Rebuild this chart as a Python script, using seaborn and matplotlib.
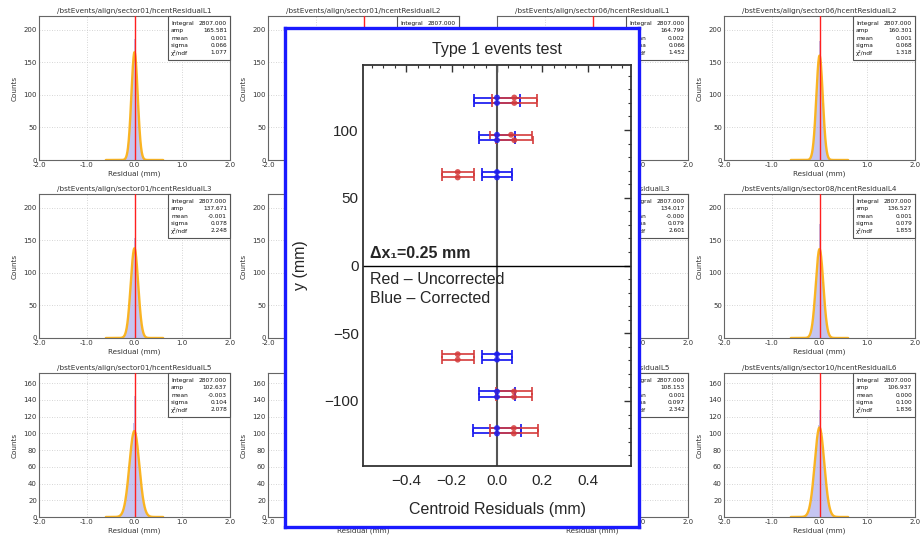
import numpy as np
import pandas as pd
import matplotlib
matplotlib.use("Agg")
import matplotlib.pyplot as plt
import matplotlib.transforms as mtransforms
from matplotlib.patches import Rectangle
from matplotlib.ticker import MultipleLocator, FixedLocator
import seaborn as sns

W, H = 922, 538

# ---------------- residual histogram panels (3 rows x 4 columns) ----------------
PANEL_TITLES = [
    "/bstEvents/align/sector01/hcentResidualL1", "/bstEvents/align/sector01/hcentResidualL2",
    "/bstEvents/align/sector06/hcentResidualL1", "/bstEvents/align/sector06/hcentResidualL2",
    "/bstEvents/align/sector01/hcentResidualL3", "/bstEvents/align/sector01/hcentResidualL4",
    "/bstEvents/align/sector08/hcentResidualL3", "/bstEvents/align/sector08/hcentResidualL4",
    "/bstEvents/align/sector01/hcentResidualL5", "/bstEvents/align/sector01/hcentResidualL6",
    "/bstEvents/align/sector10/hcentResidualL5", "/bstEvents/align/sector10/hcentResidualL6",
]
PANEL_INTEGRAL = [2807.0] * 12
PANEL_AMP = [165.581, None, 164.799, 160.301, 137.671, None, 134.017, 136.527, 102.637, None, 108.153, 106.937]
PANEL_MEAN = [0.001, None, 0.002, 0.001, -0.001, None, -0.0, 0.001, -0.003, None, 0.001, 0.000]
PANEL_SIGMA = [0.066, None, 0.066, 0.068, 0.078, None, 0.079, 0.079, 0.104, None, 0.097, 0.100]
PANEL_CHI2 = [1.077, None, 1.452, 1.318, 2.248, None, 2.601, 1.855, 2.078, None, 2.342, 1.836]

# residual bin centres (mm) and counts per bin
BIN_CENTERS = [-0.300, -0.275, -0.250, -0.225, -0.200, -0.175, -0.150, -0.125, -0.100, -0.075, -0.050, -0.025,
               0.000, 0.025, 0.050, 0.075, 0.100, 0.125, 0.150, 0.175, 0.200, 0.225, 0.250, 0.275, 0.300]
HIST_S01_L1 = [0, 0, 0, 1, 2, 5, 13, 28, 50, 90, 128, 158, 185, 150, 122, 85, 55, 27, 12, 5, 2, 1, 0, 0, 0]
HIST_S06_L2 = [0, 0, 0, 1, 2, 6, 14, 30, 54, 92, 125, 150, 182, 148, 120, 88, 56, 29, 13, 5, 2, 1, 0, 0, 0]
HIST_S01_L3 = [0, 0, 1, 2, 5, 11, 22, 40, 60, 86, 112, 132, 154, 128, 110, 88, 58, 37, 21, 11, 5, 2, 1, 0, 0]
HIST_S08_L4 = [0, 0, 1, 2, 5, 11, 22, 40, 62, 88, 115, 135, 175, 140, 110, 86, 60, 37, 21, 11, 5, 2, 1, 0, 0]
HIST_S01_L5 = [2, 3, 6, 10, 17, 25, 37, 50, 66, 80, 95, 112, 144, 130, 96, 78, 63, 50, 36, 24, 16, 10, 6, 3, 2]
HIST_S10_L6 = [1, 2, 4, 9, 15, 24, 36, 51, 68, 82, 97, 110, 128, 118, 100, 84, 66, 51, 36, 24, 14, 8, 4, 2, 1]
PANEL_HIST = {0: HIST_S01_L1, 3: HIST_S06_L2, 4: HIST_S01_L3, 7: HIST_S08_L4, 8: HIST_S01_L5, 11: HIST_S10_L6}

PANEL_XTICKS = [-2.0, -1.0, 0.0, 1.0, 2.0]
PANEL_XTICKLABELS = ["-2.0", "-1.0", "0.0", "1.0", "2.0"]
ROW_YTICKS = [[0, 50, 100, 150, 200], [0, 50, 100, 150, 200], [0, 20, 40, 60, 80, 100, 120, 140, 160]]
ROW_YMAX = [221, 221, 172]

# ---------------- centroid residuals vs layer position ----------------
LAYER_Y = [124, 120, 96.5, 92.5, 69, 65, -65.5, -69.5, -93, -97, -120, -124]
RED_X = [0.076, 0.076, 0.062, 0.076, -0.173, -0.173, -0.173, -0.173, 0.075, 0.075, 0.074, 0.074]
RED_ERR = [0.100, 0.100, 0.093, 0.082, 0.070, 0.070, 0.070, 0.070, 0.080, 0.080, 0.106, 0.106]
BLUE_X = [0.0] * 12
BLUE_ERR = [0.100, 0.100, 0.079, 0.079, 0.068, 0.068, 0.068, 0.068, 0.080, 0.080, 0.104, 0.104]
INSET_XTICKS = [-0.4, -0.2, 0.0, 0.2, 0.4]
INSET_YTICKS = [-100, -50, 0, 50, 100]

sns.set_style("white")
plt.rcParams["font.family"] = ["DejaVu Sans"]

fig = plt.figure(figsize=(W / 100, H / 100), dpi=100)
fig.patch.set_facecolor("white")


def px(x0, y0, x1, y1):
    return [x0 / W, 1 - y1 / H, (x1 - x0) / W, (y1 - y0) / H]


COL_LEFT = [39, 268, 497, 724]
ROW_TOP = [16, 194, 373]
PW, PH = 191, 144
TXT = "#333333"
BIN_EDGES = [b - 0.0125 for b in BIN_CENTERS] + [BIN_CENTERS[-1] + 0.0125]

panel_axes = []
for i in range(12):
    r, c = divmod(i, 4)
    x0, y0 = COL_LEFT[c], ROW_TOP[r]
    ax = fig.add_axes(px(x0, y0, x0 + PW, y0 + PH))
    ax.set_zorder(0)
    panel_axes.append(ax)

    if i in PANEL_HIST:
        hist_df = pd.DataFrame({"residual": BIN_CENTERS, "counts": PANEL_HIST[i]})
        sns.histplot(data=hist_df, x="residual", weights="counts", bins=BIN_EDGES, ax=ax,
                     color="#8080e0", alpha=0.45, linewidth=0, element="bars")
    if PANEL_AMP[i] is not None:
        xs = np.linspace(-0.6, 0.6, 400)
        ys = PANEL_AMP[i] * np.exp(-0.5 * ((xs - PANEL_MEAN[i]) / PANEL_SIGMA[i]) ** 2)
        sns.lineplot(x=xs, y=ys, ax=ax, color="#fbb117", lw=1.7, alpha=0.95)
    ax.axvline(0.0, color="#ff2020", lw=1.0, zorder=4)

    ax.set_xlim(-2.0, 2.0)
    ax.set_ylim(0, ROW_YMAX[r])
    ax.set_xticks(PANEL_XTICKS)
    ax.set_xticklabels(PANEL_XTICKLABELS)
    ax.set_yticks(ROW_YTICKS[r])
    ax.grid(True, ls=(0, (1, 2)), color="#c8c8c8", lw=0.6)
    ax.tick_params(labelsize=5, colors=TXT, length=2, width=0.5, pad=1.5, direction="in")
    for s in ax.spines.values():
        s.set_color("#666666")
        s.set_linewidth(0.8)
    ax.set_title(PANEL_TITLES[i], fontsize=5.2, color=TXT, pad=2)
    ax.set_xlabel("Residual (mm)", fontsize=5.2, color=TXT, labelpad=2)
    ax.set_ylabel("Counts", fontsize=5.2, color=TXT, labelpad=4)

    # fit statistics box in the top-right corner
    bw, bh = 62 / PW, 44 / PH
    ax.add_patch(Rectangle((1 - bw, 1 - bh), bw, bh, transform=ax.transAxes,
                           facecolor="white", edgecolor="#555555", lw=0.8, zorder=6, clip_on=False))
    rows = [("Integral", PANEL_INTEGRAL[i]), ("amp", PANEL_AMP[i]), ("mean", PANEL_MEAN[i]),
            ("sigma", PANEL_SIGMA[i]), ("\u03c7\u00b2/ndf", PANEL_CHI2[i])]
    for k, (lab, val) in enumerate(rows):
        yy = 1 - (7.7 + 7.25 * k) / PH
        if val is None:
            continue
        ax.text(1 - bw + 3 / PW, yy, lab, transform=ax.transAxes, fontsize=4.2,
                color="#111111", va="center", ha="left", zorder=7)
        ax.text(1 - 3 / PW, yy, f"{val:.3f}", transform=ax.transAxes, fontsize=4.2,
                color="#111111", va="center", ha="right", zorder=7)

# ---------------- overlay panel ----------------
ax_box = fig.add_axes(px(285, 28, 639, 527))
ax_box.set_zorder(5)
ax_box.set_facecolor("white")
ax_box.set_xticks([])
ax_box.set_yticks([])
for s in ax_box.spines.values():
    s.set_color("#1a1aff")
    s.set_linewidth(2.4)

INSET_FONT = ["Liberation Sans", "DejaVu Sans"]
ax_in = fig.add_axes(px(363, 65, 631, 466))
ax_in.set_zorder(6)
ax_in.set_facecolor("white")

ax_in.axvline(0.0, color="#555555", lw=1.5, zorder=1)
ax_in.axhline(0.0, color="black", lw=1.0, zorder=1)

blue_c, red_c = "#1c1cf0", "#d43a3a"
ax_in.errorbar(BLUE_X, LAYER_Y, xerr=BLUE_ERR, fmt="none", ecolor=blue_c, elinewidth=1.4,
               capsize=3, capthick=1.4, alpha=0.9, zorder=3)
ax_in.errorbar(RED_X, LAYER_Y, xerr=RED_ERR, fmt="none", ecolor=red_c, elinewidth=1.4,
               capsize=3, capthick=1.4, alpha=0.85, zorder=4)
pts = pd.DataFrame({
    "x": BLUE_X + RED_X,
    "y": LAYER_Y + LAYER_Y,
    "set": ["Corrected"] * len(BLUE_X) + ["Uncorrected"] * len(RED_X),
})
sns.scatterplot(data=pts, x="x", y="y", hue="set", palette={"Corrected": blue_c, "Uncorrected": red_c},
                s=18, edgecolor="none", alpha=0.85, legend=False, ax=ax_in, zorder=5)

ax_in.set_xlim(-0.59, 0.59)
ax_in.set_ylim(-148, 148)
ax_in.xaxis.set_major_locator(FixedLocator(INSET_XTICKS))
ax_in.set_xticklabels([f"{v:.1f}".replace("-", "\u2212") for v in INSET_XTICKS])
ax_in.xaxis.set_minor_locator(MultipleLocator(0.05))
ax_in.yaxis.set_major_locator(FixedLocator(INSET_YTICKS))
ax_in.set_yticklabels([f"{v:d}".replace("-", "\u2212") for v in INSET_YTICKS])
ax_in.yaxis.set_minor_locator(MultipleLocator(10))
ax_in.tick_params(which="both", direction="in", top=True, right=True, color="#333333")
ax_in.tick_params(which="major", length=5, width=1.0, labelsize=11)
ax_in.tick_params(which="minor", length=2.5, width=0.8)
ax_in.tick_params(axis="x", pad=6)
ax_in.tick_params(axis="y", pad=3)
for lab in ax_in.get_xticklabels() + ax_in.get_yticklabels():
    lab.set_family(INSET_FONT)
for s in ax_in.spines.values():
    s.set_color("#333333")
    s.set_linewidth(1.3)

ax_in.set_title("Type 1 events test", fontsize=11.5, family=INSET_FONT, pad=8)
ax_in.set_xlabel("Centroid Residuals (mm)", fontsize=11.5, family=INSET_FONT)
ax_in.set_ylabel("y (mm)", fontsize=11.5, family=INSET_FONT)
ax_in.xaxis.set_label_coords(0.5, -0.09)
ax_in.yaxis.set_label_coords(-0.205, 0.5)

blend = mtransforms.blended_transform_factory(ax_in.transAxes, ax_in.transData)
ax_in.text(0.027, 3.5, "\u0394x\u2081=0.25 mm", transform=blend, fontsize=11.5, fontweight="bold",
           family=INSET_FONT, va="bottom", ha="left")
ax_in.text(0.027, -10.5, "Red \u2013 Uncorrected", transform=blend, fontsize=11.5,
           family=INSET_FONT, va="center", ha="left")
ax_in.text(0.027, -24.5, "Blue \u2013 Corrected", transform=blend, fontsize=11.5,
           family=INSET_FONT, va="center", ha="left")

# panel texts lying entirely under the overlay panel are never seen; switch them off
fig.canvas.draw()
renderer = fig.canvas.get_renderer()
cover = ax_box.get_window_extent(renderer)
for ax in panel_axes:
    texts = list(ax.texts) + ax.get_xticklabels() + ax.get_yticklabels() + \
        [ax.title, ax.xaxis.label, ax.yaxis.label]
    for t in texts:
        if not t.get_visible() or not t.get_text():
            continue
        bb = t.get_window_extent(renderer)
        if bb.x0 >= cover.x0 and bb.x1 <= cover.x1 and bb.y0 >= cover.y0 and bb.y1 <= cover.y1:
            t.set_visible(False)

fig.savefig("out.png", dpi=100, facecolor="white")
